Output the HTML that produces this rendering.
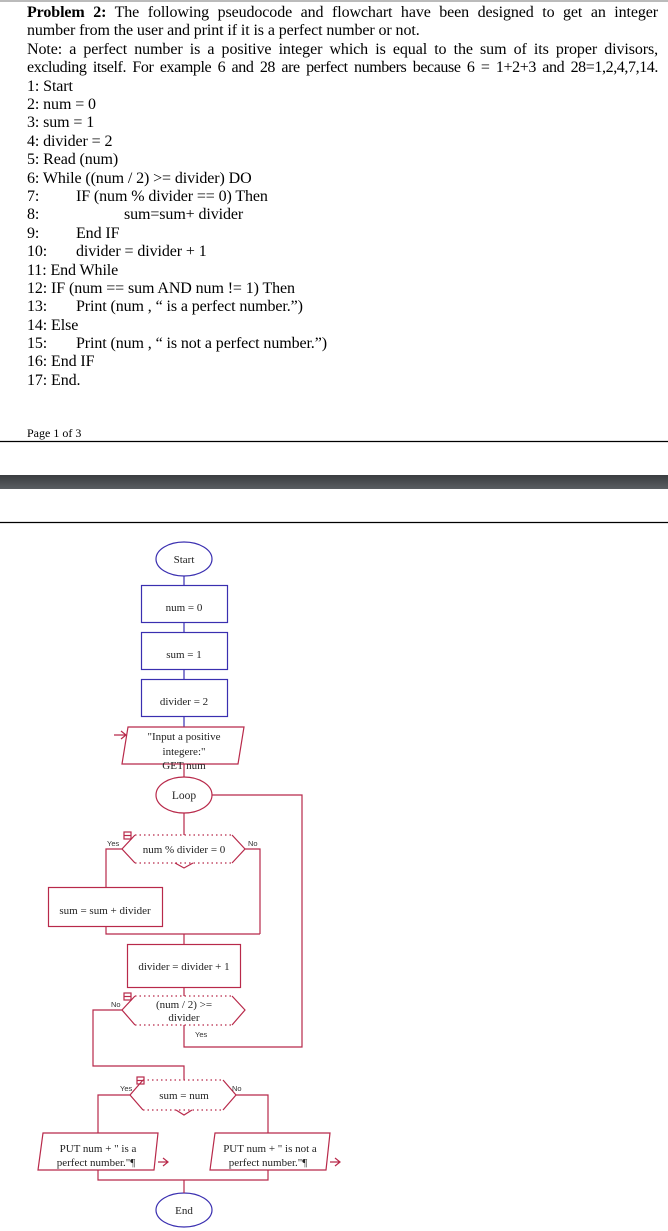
<!DOCTYPE html>
<html><head><meta charset="utf-8"><style>
body{margin:0;width:668px;height:1231px;position:relative;background:#fff;overflow:hidden;font-family:"Liberation Serif",serif;color:#000}
.top{position:absolute;left:0;top:0;width:668px;height:2px;background:#bbb}
.txt{position:absolute;left:27px;top:4px;width:631px;font-size:16px;line-height:18.4px;letter-spacing:-0.1px}
.j{text-align:justify;text-align-last:justify}
.l{white-space:pre;position:relative;height:18.4px}
.i1{position:absolute;left:49px;top:0}
.i2{position:absolute;left:97px;top:0}
.pg{position:absolute;left:27px;top:426px;font-size:12px}
</style></head><body>
<div class="top"></div>
<div class="txt">
<div class="j"><b>Problem 2:</b> The following pseudocode and flowchart have been designed to get an integer</div>
<div>number from the user and print if it is a perfect number or not.</div>
<div class="j">Note: a perfect number is a positive integer which is equal to the sum of its proper divisors,</div>
<div class="j" style="letter-spacing:-0.4px">excluding itself. For example 6 and 28 are perfect numbers because 6 = 1+2+3 and 28=1,2,4,7,14.</div>
<div class="l">1: Start</div>
<div class="l">2: num = 0</div>
<div class="l">3: sum = 1</div>
<div class="l">4: divider = 2</div>
<div class="l">5: Read (num)</div>
<div class="l">6: While ((num / 2) &gt;= divider) DO</div>
<div class="l">7:<span class="i1">IF (num % divider == 0) Then</span></div>
<div class="l">8:<span class="i2">sum=sum+ divider</span></div>
<div class="l">9:<span class="i1">End IF</span></div>
<div class="l">10:<span class="i1">divider = divider + 1</span></div>
<div class="l">11: End While</div>
<div class="l">12: IF (num == sum AND num != 1) Then</div>
<div class="l">13:<span class="i1">Print (num , “ is a perfect number.”)</span></div>
<div class="l">14: Else</div>
<div class="l">15:<span class="i1">Print (num , “ is not a perfect number.”)</span></div>
<div class="l">16: End IF</div>
<div class="l">17: End.</div>
</div>
<div class="pg">Page 1 of 3</div>
<svg width="668" height="1231" style="position:absolute;left:0;top:0" font-family="Liberation Serif, serif">
<defs><linearGradient id="g" x1="0" y1="0" x2="0" y2="1"><stop offset="0" stop-color="#3a3d40"/><stop offset="1" stop-color="#5a5e62"/></linearGradient></defs>
<line x1="0" y1="441.5" x2="668" y2="441.5" stroke="#000" stroke-width="1.2"/>
<rect x="0" y="475" width="668" height="14" fill="url(#g)"/>
<line x1="0" y1="522.5" x2="668" y2="522.5" stroke="#000" stroke-width="1.2"/>
<g fill="none" stroke-width="1.2">
<g stroke="#3a2fb0">
<ellipse cx="184" cy="559" rx="28" ry="17"/>
<rect x="141.5" y="585.5" width="86" height="37"/>
<rect x="141.5" y="632.5" width="86" height="37"/>
<rect x="141.5" y="679.5" width="86" height="37"/>
<line x1="184" y1="576" x2="184" y2="585"/><line x1="184" y1="622" x2="184" y2="632"/><line x1="184" y1="669" x2="184" y2="679"/><line x1="184" y1="716" x2="184" y2="727"/>
<ellipse cx="184" cy="1210" rx="28" ry="17"/>
</g>
<g stroke="#b8294a">
<polygon points="128,727 244,727 238,764 122,764"/>
<path d="M114,735 H126 M121,731 L126,735 L121,739"/>
<line x1="184" y1="764" x2="184" y2="777"/>
<ellipse cx="184" cy="795" rx="28" ry="18"/>
<line x1="184" y1="813" x2="184" y2="835"/>
<path d="M135,835 L122,849 L135,863 M232,835 L245,849 L232,863"/>
<path d="M135,835 H232 M135,863 H232" stroke-dasharray="1.5,3"/>
<path d="M175,863 L184,868 L193,863"/>
<path d="M122,849 H106 V887 M245,849 H260 V934 M106,926 V934 H260 M184,934 V944"/>
<rect x="48.5" y="887.5" width="114" height="39"/>
<rect x="127.5" y="944.5" width="113" height="43"/>
<line x1="184" y1="987" x2="184" y2="996"/>
<path d="M135,996 L122,1010 L135,1025 M232,996 L245,1010 L232,1025"/>
<path d="M135,996 H232 M135,1025 H232" stroke-dasharray="1.5,3"/>
<path d="M122,1010 H93 V1066 H184 V1080 M184,1025 V1047 H302 V795 H212"/>
<path d="M143,1080 L130,1095 L143,1110 M223,1080 L236,1095 L223,1110"/>
<path d="M143,1080 H223 M143,1110 H223" stroke-dasharray="1.5,3"/>
<path d="M176,1110 L184,1115 L192,1110"/>
<path d="M130,1095 H98 V1133 M236,1095 H268 V1133"/>
<polygon points="43,1133 158,1133 154,1170 38,1170"/>
<polygon points="215,1133 330,1133 326,1170 210,1170"/>
<path d="M158,1162 H168 M163,1158 L168,1162 L163,1166 M330,1162 H340 M335,1158 L340,1162 L335,1166"/>
<path d="M98,1170 V1180 H268 V1170 M184,1180 V1193"/>
<rect x="124" y="832" width="7" height="7"/><line x1="124" y1="835.5" x2="131" y2="835.5"/>
<rect x="124" y="993" width="7" height="7"/><line x1="124" y1="996.5" x2="131" y2="996.5"/>
<rect x="137" y="1077" width="7" height="7"/><line x1="137" y1="1080.5" x2="144" y2="1080.5"/>
</g>
</g>
<g font-size="11" text-anchor="middle" fill="#222">
<text x="184" y="563">Start</text>
<text x="184" y="611">num = 0</text>
<text x="184" y="658">sum = 1</text>
<text x="184" y="705">divider = 2</text>
<text x="184" y="740">"Input a positive</text>
<text x="184" y="755">integere:"</text>
<text x="184" y="769">GET num</text>
<text x="184" y="799" font-size="11.5">Loop</text>
<text x="184" y="853">num % divider = 0</text>
<text x="105" y="914">sum = sum  +  divider</text>
<text x="184" y="970">divider = divider  +  1</text>
<text x="184" y="1008">(num / 2) &gt;=</text>
<text x="184" y="1021">divider</text>
<text x="184" y="1099">sum = num</text>
<text x="98" y="1152">PUT num  +  " is a</text>
<text x="96" y="1166">perfect number."¶</text>
<text x="270" y="1152">PUT num  +  " is not a</text>
<text x="268" y="1166">perfect number."¶</text>
<text x="184" y="1214">End</text>
</g>
<g font-family="Liberation Sans, sans-serif" font-size="7.5" fill="#333">
<text x="107" y="846">Yes</text><text x="248" y="846">No</text>
<text x="111" y="1007">No</text><text x="195" y="1037">Yes</text>
<text x="120" y="1091">Yes</text><text x="232" y="1091">No</text>
</g>
</svg>
</body></html>
